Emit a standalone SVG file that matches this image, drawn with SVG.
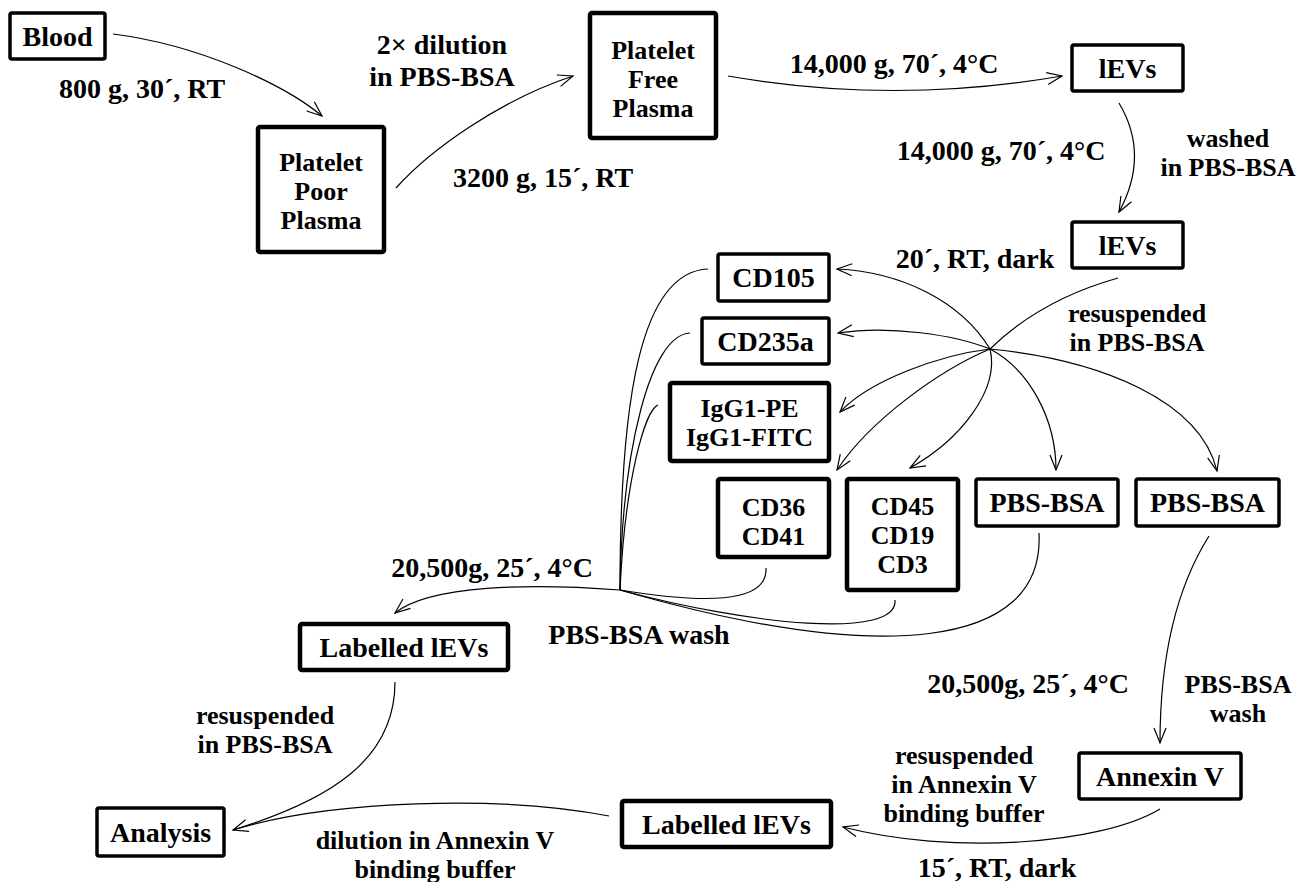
<svg xmlns="http://www.w3.org/2000/svg" width="1315" height="882" viewBox="0 0 1315 882">
<style>
text{font-family:"Liberation Serif","Times New Roman",serif;font-weight:bold;font-size:28px;fill:#000;text-anchor:middle}
text.m{font-size:26px}
.b{fill:#fff;stroke:#000;stroke-width:3.5}
.B{fill:#fff;stroke:#000;stroke-width:4.5}
.c{fill:none;stroke:#000;stroke-width:1.2}
.a{marker-end:url(#ah)}
</style>
<defs>
<marker id="ah" markerUnits="userSpaceOnUse" markerWidth="18" markerHeight="14" refX="16" refY="7" orient="auto">
<path d="M1,1 L16,7 L1,13" fill="none" stroke="#000" stroke-width="1.2"/>
</marker>
</defs>
<rect width="1315" height="882" fill="#fff"/>
<g id="connectors">
<path class="c a" d="M113,34 C200,45 285,85 322,116"/>
<path class="c a" d="M396,188 C430,150 500,100 573,76"/>
<path class="c a" d="M728,76 Q895,105 1062,76"/>
<path class="c a" d="M1119,103 Q1150,155 1119,212"/>
<path class="c" d="M1118,278 Q1040,300 990,349"/>
<path class="c a" d="M990,349 C960,300 900,272 837,269"/>
<path class="c a" d="M990,349 C955,335 890,325 838,333"/>
<path class="c a" d="M990,349 C940,355 870,380 840,412"/>
<path class="c a" d="M990,349 C940,370 870,420 837,470"/>
<path class="c a" d="M990,349 C1000,390 960,440 910,468"/>
<path class="c a" d="M990,349 C1030,370 1056,420 1056,470"/>
<path class="c a" d="M990,349 C1100,360 1200,400 1217,471"/>
<path class="c" d="M708,269 C640,272 620,400 620,590"/>
<path class="c" d="M690,333 C650,335 622,450 620,590"/>
<path class="c" d="M658,405 C645,410 625,480 620,590"/>
<path class="c" d="M766,568 C768,605 700,603 620,590"/>
<path class="c" d="M895,600 C898,640 750,625 620,590"/>
<path class="c" d="M1039,533 C1045,650 880,665 620,590"/>
<path class="c a" d="M620,590 C530,583 430,585 395,613"/>
<path class="c a" d="M395,682 C395,760 330,800 233,830"/>
<path class="c" d="M609,816 C500,795 330,800 233,830"/>
<path class="c a" d="M1160,809 C1100,845 950,855 843,827"/>
<path class="c a" d="M1209,536 C1175,590 1160,660 1160,743"/>
</g>
<g id="labels">
<text x="142" y="98">800 g, 30´, RT</text>
<text x="442" y="54">2× dilution<tspan x="442" dy="32">in PBS-BSA</tspan></text>
<text x="543" y="187">3200 g, 15´, RT</text>
<text x="894" y="73">14,000 g, 70´, 4°C</text>
<text x="1001" y="160">14,000 g, 70´, 4°C</text>
<text class="m" x="1228" y="146.5">washed<tspan x="1228" dy="29">in PBS-BSA</tspan></text>
<text x="975" y="268">20´, RT, dark</text>
<text class="m" x="1137" y="321.5">resuspended<tspan x="1137" dy="29">in PBS-BSA</tspan></text>
<text x="492" y="577">20,500g, 25´, 4°C</text>
<text x="639" y="644">PBS-BSA wash</text>
<text class="m" x="265" y="724">resuspended<tspan x="265" dy="29">in PBS-BSA</tspan></text>
<text class="m" x="435" y="849">dilution in Annexin V<tspan x="435" dy="29">binding buffer</tspan></text>
<text x="1028" y="693">20,500g, 25´, 4°C</text>
<text class="m" x="1238" y="693">PBS-BSA<tspan x="1238" dy="29">wash</tspan></text>
<text class="m" x="964" y="763.5">resuspended<tspan x="964" dy="29">in Annexin V</tspan><tspan x="964" dy="29">binding buffer</tspan></text>
<text x="997" y="877">15´, RT, dark</text>
</g>
<g id="blood"><rect class="b" x="10" y="13" width="95" height="46" rx="2"/><text x="57.5" y="46">Blood</text></g>
<g id="ppp"><rect class="B" x="258" y="127" width="126" height="125" rx="2"/><text class="m" x="321" y="171">Platelet<tspan x="321" dy="29">Poor</tspan><tspan x="321" dy="29">Plasma</tspan></text></g>
<g id="pfp"><rect class="B" x="590" y="13" width="126" height="125" rx="2"/><text class="m" x="653" y="59">Platelet<tspan x="653" dy="29">Free</tspan><tspan x="653" dy="29">Plasma</tspan></text></g>
<g id="levs1"><rect class="b" x="1072" y="45" width="111" height="46" rx="2"/><text x="1127.5" y="78">lEVs</text></g>
<g id="levs2"><rect class="b" x="1072" y="222" width="111" height="46" rx="2"/><text x="1127.5" y="255">lEVs</text></g>
<g id="cd105"><rect class="b" x="718" y="254" width="111" height="47" rx="2"/><text x="773.5" y="287">CD105</text></g>
<g id="cd235a"><rect class="b" x="702" y="318" width="127" height="46" rx="2"/><text x="765.5" y="351">CD235a</text></g>
<g id="igg1"><rect class="B" x="670" y="383" width="159" height="78" rx="2"/><text class="m" x="749.5" y="416.5">IgG1-PE<tspan x="749.5" dy="29">IgG1-FITC</tspan></text></g>
<g id="cd36"><rect class="B" x="718" y="479" width="111" height="78" rx="2"/><text class="m" x="773.5" y="515.5">CD36<tspan x="773.5" dy="29">CD41</tspan></text></g>
<g id="cd45"><rect class="B" x="847" y="479" width="111" height="111" rx="2"/><text class="m" x="902.5" y="514.5">CD45<tspan x="902.5" dy="29">CD19</tspan><tspan x="902.5" dy="29">CD3</tspan></text></g>
<g id="pbs1"><rect class="b" x="976" y="479" width="142" height="47" rx="2"/><text x="1047" y="512">PBS-BSA</text></g>
<g id="pbs2"><rect class="b" x="1136" y="479" width="143" height="47" rx="2"/><text x="1207.5" y="512">PBS-BSA</text></g>
<g id="labelled1"><rect class="B" x="300" y="624" width="208" height="46" rx="2"/><text x="404" y="657">Labelled lEVs</text></g>
<g id="analysis"><rect class="b" x="97" y="808" width="127" height="48" rx="2"/><text x="160.5" y="842">Analysis</text></g>
<g id="labelled2"><rect class="B" x="622" y="801" width="209" height="46" rx="2"/><text x="726.5" y="834">Labelled lEVs</text></g>
<g id="annexin"><rect class="b" x="1079" y="753" width="162" height="46" rx="2"/><text x="1160" y="786">Annexin V</text></g>
</svg>
